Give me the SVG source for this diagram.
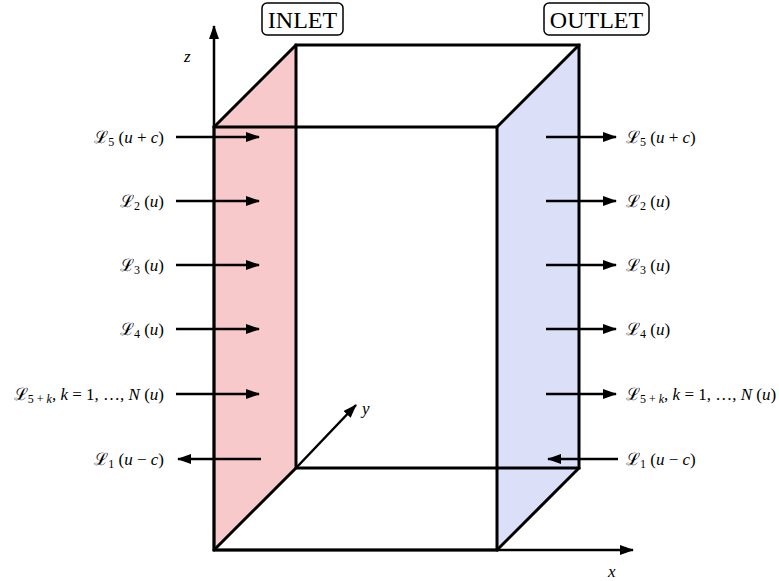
<svg xmlns="http://www.w3.org/2000/svg" width="779" height="581" viewBox="0 0 779 581">
<style>
.e{stroke:#000;stroke-width:3;fill:none;stroke-linecap:round}
.a{stroke:#000;stroke-width:2.5;fill:none}
.t{font-family:"Liberation Serif","DejaVu Serif",serif;font-size:17px;fill:#000}
.i{font-style:italic}
.s{font-size:12px}
.ax{font-family:"Liberation Serif",serif;font-size:17px;font-style:italic;fill:#000}
.b{font-family:"Liberation Serif",serif;font-size:24px;fill:#000}
.box{fill:#fff;stroke:#000;stroke-width:1.5}
</style>
<defs>
<marker id="ah" viewBox="0 0 14 10" refX="13" refY="5" markerWidth="14" markerHeight="10" markerUnits="userSpaceOnUse" orient="auto">
<path d="M0,0 L14,5 L0,10 Z" fill="#000"/>
</marker>
</defs>
<g id="inlet-face"><polygon points="214,127 296,45 296,468 214,550" fill="#f7c9cb"/></g>
<g id="outlet-face"><polygon points="497,127 579,45 579,468 497,550" fill="#dbe0f8"/></g>
<g id="box-edges">
<path class="e" d="M296,45 H579 V468 H296 Z"/>
<path class="e" d="M214,127 H497 V550 H214 Z"/>
<path class="e" d="M214,127 L296,45 M497,127 L579,45 M214,550 L296,468 M497,550 L579,468"/>
</g>
<g id="axes">
<line class="a" x1="214" y1="550" x2="214" y2="26" marker-end="url(#ah)"/>
<line class="a" x1="214" y1="550" x2="633" y2="550" marker-end="url(#ah)"/>
<line class="a" x1="296" y1="468" x2="356" y2="405" marker-end="url(#ah)"/>
<text class="ax" x="184" y="62">z</text>
<text class="ax" x="608" y="577">x</text>
<text class="ax" x="362" y="414">y</text>
</g>
<g id="inlet-label"><rect class="box" x="262" y="3" width="81" height="32" rx="5"/><text class="b" x="302.5" y="28" text-anchor="middle">INLET</text></g>
<g id="outlet-label"><rect class="box" x="544" y="3" width="105" height="32" rx="5"/><text class="b" x="596.5" y="28" text-anchor="middle">OUTLET</text></g>
<g id="connectors">
<line class="a" x1="176" y1="137" x2="259" y2="137" marker-end="url(#ah)"/>
<line class="a" x1="176" y1="201" x2="259" y2="201" marker-end="url(#ah)"/>
<line class="a" x1="176" y1="265" x2="259" y2="265" marker-end="url(#ah)"/>
<line class="a" x1="176" y1="329" x2="259" y2="329" marker-end="url(#ah)"/>
<line class="a" x1="176" y1="394" x2="259" y2="394" marker-end="url(#ah)"/>
<line class="a" x1="261" y1="459" x2="178" y2="459" marker-end="url(#ah)"/>
<line class="a" x1="546" y1="137" x2="616" y2="137" marker-end="url(#ah)"/>
<line class="a" x1="546" y1="201" x2="616" y2="201" marker-end="url(#ah)"/>
<line class="a" x1="546" y1="265" x2="616" y2="265" marker-end="url(#ah)"/>
<line class="a" x1="546" y1="329" x2="616" y2="329" marker-end="url(#ah)"/>
<line class="a" x1="546" y1="394" x2="616" y2="394" marker-end="url(#ah)"/>
<line class="a" x1="618" y1="459" x2="548" y2="459" marker-end="url(#ah)"/>
</g>
<g id="left-labels" class="t" text-anchor="end">
<text x="164" y="143">ℒ<tspan class="s" dy="3">5</tspan><tspan dy="-3"> (</tspan><tspan class="i">u</tspan> + <tspan class="i">c</tspan>)</text>
<text x="164" y="207">ℒ<tspan class="s" dy="3">2</tspan><tspan dy="-3"> (</tspan><tspan class="i">u</tspan>)</text>
<text x="164" y="271">ℒ<tspan class="s" dy="3">3</tspan><tspan dy="-3"> (</tspan><tspan class="i">u</tspan>)</text>
<text x="164" y="335">ℒ<tspan class="s" dy="3">4</tspan><tspan dy="-3"> (</tspan><tspan class="i">u</tspan>)</text>
<text x="164" y="400">ℒ<tspan class="s" dy="3">5 + <tspan class="i">k</tspan></tspan><tspan dy="-3">, </tspan><tspan class="i">k</tspan> = 1, …, <tspan class="i">N</tspan> (<tspan class="i">u</tspan>)</text>
<text x="164" y="465">ℒ<tspan class="s" dy="3">1</tspan><tspan dy="-3"> (</tspan><tspan class="i">u</tspan> − <tspan class="i">c</tspan>)</text>
</g>
<g id="right-labels" class="t">
<text x="626" y="143">ℒ<tspan class="s" dy="3">5</tspan><tspan dy="-3"> (</tspan><tspan class="i">u</tspan> + <tspan class="i">c</tspan>)</text>
<text x="626" y="207">ℒ<tspan class="s" dy="3">2</tspan><tspan dy="-3"> (</tspan><tspan class="i">u</tspan>)</text>
<text x="626" y="271">ℒ<tspan class="s" dy="3">3</tspan><tspan dy="-3"> (</tspan><tspan class="i">u</tspan>)</text>
<text x="626" y="335">ℒ<tspan class="s" dy="3">4</tspan><tspan dy="-3"> (</tspan><tspan class="i">u</tspan>)</text>
<text x="626" y="400">ℒ<tspan class="s" dy="3">5 + <tspan class="i">k</tspan></tspan><tspan dy="-3">, </tspan><tspan class="i">k</tspan> = 1, …, <tspan class="i">N</tspan> (<tspan class="i">u</tspan>)</text>
<text x="626" y="465">ℒ<tspan class="s" dy="3">1</tspan><tspan dy="-3"> (</tspan><tspan class="i">u</tspan> − <tspan class="i">c</tspan>)</text>
</g>
</svg>
